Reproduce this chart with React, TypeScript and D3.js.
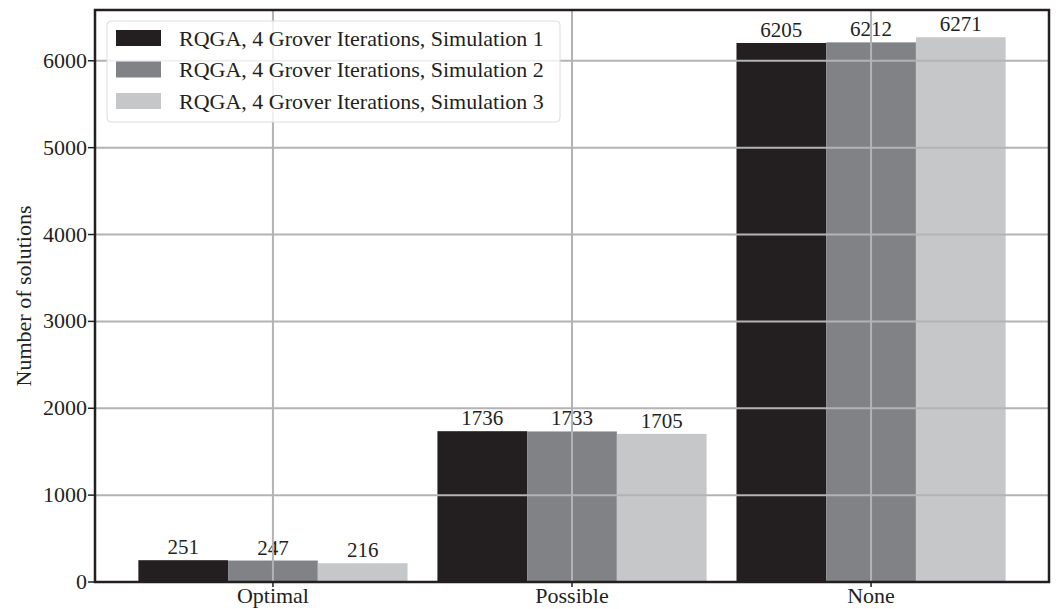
import React from "react";
import * as d3 from "d3";

const categories = ["Optimal", "Possible", "None"];
const seriesNames = [
  "RQGA, 4 Grover Iterations, Simulation 1",
  "RQGA, 4 Grover Iterations, Simulation 2",
  "RQGA, 4 Grover Iterations, Simulation 3",
];
const sim1 = [251, 1736, 6205];
const sim2 = [247, 1733, 6212];
const sim3 = [216, 1705, 6271];
const colors = ["#231f20", "#818285", "#c6c7c9"];
const yTicks = [0, 1000, 2000, 3000, 4000, 5000, 6000];

export default function App() {
  const W = 1057, H = 609;
  const left = 95, right = 1049, top = 10, bottom = 582;
  const series = [sim1, sim2, sim3];
  const maxV = d3.max(series.flat()) as number;
  const x = d3.scaleLinear().domain([-0.595, 2.595]).range([left, right]);
  const y = d3.scaleLinear().domain([0, maxV * 1.05]).range([bottom, top]);
  const bw = 0.3;
  const font = "'Liberation Serif', 'Times New Roman', serif";
  return (
    <svg width={W} height={H} style={{ position: "absolute", left: 0, top: 0 }} fontFamily={font}>
      <rect x={0} y={0} width={W} height={H} fill="#fff" />
      {series.map((vals, si) =>
        vals.map((v, ci) => {
          const cx = ci + (si - 1) * bw;
          const x0 = x(cx - bw / 2), x1 = x(cx + bw / 2);
          return (
            <g key={`${si}-${ci}`}>
              <rect x={x0} y={y(v)} width={x1 - x0} height={bottom - y(v)} fill={colors[si]} />
              <text x={(x0 + x1) / 2} y={y(v) - 6} textAnchor="middle" fontSize={21} fill="#231f20">{v}</text>
            </g>
          );
        })
      )}
      {/* grid on top */}
      {yTicks.map((t) => (
        <line key={t} x1={left} x2={right} y1={y(t)} y2={y(t)} stroke="#b3b3b5" strokeWidth={2} />
      ))}
      {categories.map((c, i) => (
        <line key={c} x1={x(i)} x2={x(i)} y1={top} y2={bottom} stroke="#b3b3b5" strokeWidth={2} />
      ))}
      {/* spines */}
      <rect x={left} y={top} width={right - left} height={bottom - top} fill="none" stroke="#231f20" strokeWidth={2.5} />
      {/* y ticks */}
      {yTicks.map((t) => (
        <g key={t}>
          <line x1={left - 7} x2={left} y1={y(t)} y2={y(t)} stroke="#231f20" strokeWidth={1.5} />
          <text x={left - 8} y={y(t) + 7} textAnchor="end" fontSize={22} fill="#231f20">{t}</text>
        </g>
      ))}
      {categories.map((c, i) => (
        <g key={c}>
          <line x1={x(i)} x2={x(i)} y1={bottom} y2={bottom + 5} stroke="#231f20" strokeWidth={1.5} />
          <text x={x(i)} y={bottom + 21} textAnchor="middle" fontSize={22} fill="#231f20">{c}</text>
        </g>
      ))}
      <text transform={`translate(31,${(top + bottom) / 2}) rotate(-90)`} textAnchor="middle" fontSize={22} fill="#231f20">
        Number of solutions
      </text>
      {/* legend */}
      <rect x={107} y={21} width={453} height={101} rx={4} fill="#fff" fillOpacity={0.8} stroke="#dcdcdc" strokeWidth={1} />
      {seriesNames.map((n, i) => (
        <g key={n}>
          <rect x={116} y={30 + i * 31.5} width={45} height={16} fill={colors[i]} />
          <text x={179} y={45.5 + i * 31.5} fontSize={22} fill="#231f20">{n}</text>
        </g>
      ))}
    </svg>
  );
}
